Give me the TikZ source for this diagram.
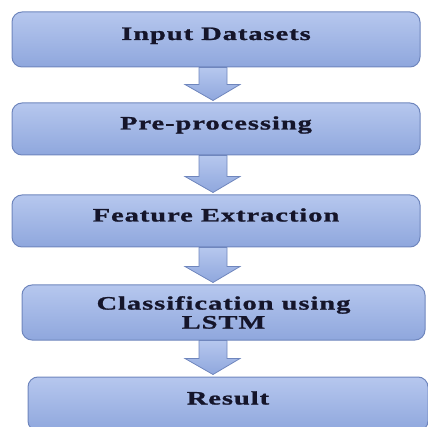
\documentclass[tikz,border=0pt]{standalone}
\usepackage{fontspec}
\usetikzlibrary{calc}
\newfontfamily\boxfont[FakeStretch=1.5,LetterSpace=5,FakeBold=1.2]{Liberation Serif}
\definecolor{boxtop}{HTML}{B6C7EE}
\definecolor{boxbottom}{HTML}{8FA7DD}
\definecolor{boxline}{HTML}{6F86BD}
\definecolor{boxtext}{HTML}{15152A}
\tikzstyle{flowbox}=[rectangle,rounded corners=10pt,draw=boxline,line width=1pt,top color=boxtop,bottom color=boxbottom,align=center,font=\boxfont\bfseries\fontsize{19}{19}\selectfont,text=boxtext,inner sep=0pt]
\tikzstyle{raised}=[text height=14pt,text depth=13pt]
\tikzstyle{flowarrow}=[draw=boxline,line width=0.8pt,top color=boxtop,bottom color=boxbottom]
% block arrow from the bottom of one box to the top of the next
\newcommand{\stepto}[2]{%
  \path [style=flowarrow] let \p1=(#1.south), \p2=(#2.north) in
    (199pt,\y1) -- (227pt,\y1) -- (227pt,\y2+18pt) -- (240pt,\y2+18pt)
    -- (213pt,\y2+2pt) -- (185pt,\y2+18pt) -- (199pt,\y2+18pt) -- cycle;}

\begin{document}
\begin{tikzpicture}[x=1pt,y=-1pt]
	\useasboundingbox (0,0) rectangle (428,427);
	\node [style=flowbox,style=raised,minimum width=408pt,minimum height=55pt] (input) at (216, 39.5) {Input Datasets};
	\node [style=flowbox,style=raised,minimum width=408pt,minimum height=52pt] (prep) at (216, 129) {Pre-processing};
	\node [style=flowbox,style=raised,minimum width=408pt,minimum height=52pt] (feat) at (216, 221) {Feature Extraction};
	\node [style=flowbox,minimum width=403pt,minimum height=55pt] (lstm) at (223.5, 312.5) {Classification using\\LSTM};
	\node [style=flowbox,style=raised,minimum width=400pt,minimum height=54pt] (result) at (228, 404) {Result};
	\stepto{input}{prep}
	\stepto{prep}{feat}
	\stepto{feat}{lstm}
	\stepto{lstm}{result}
\end{tikzpicture}
\end{document}
